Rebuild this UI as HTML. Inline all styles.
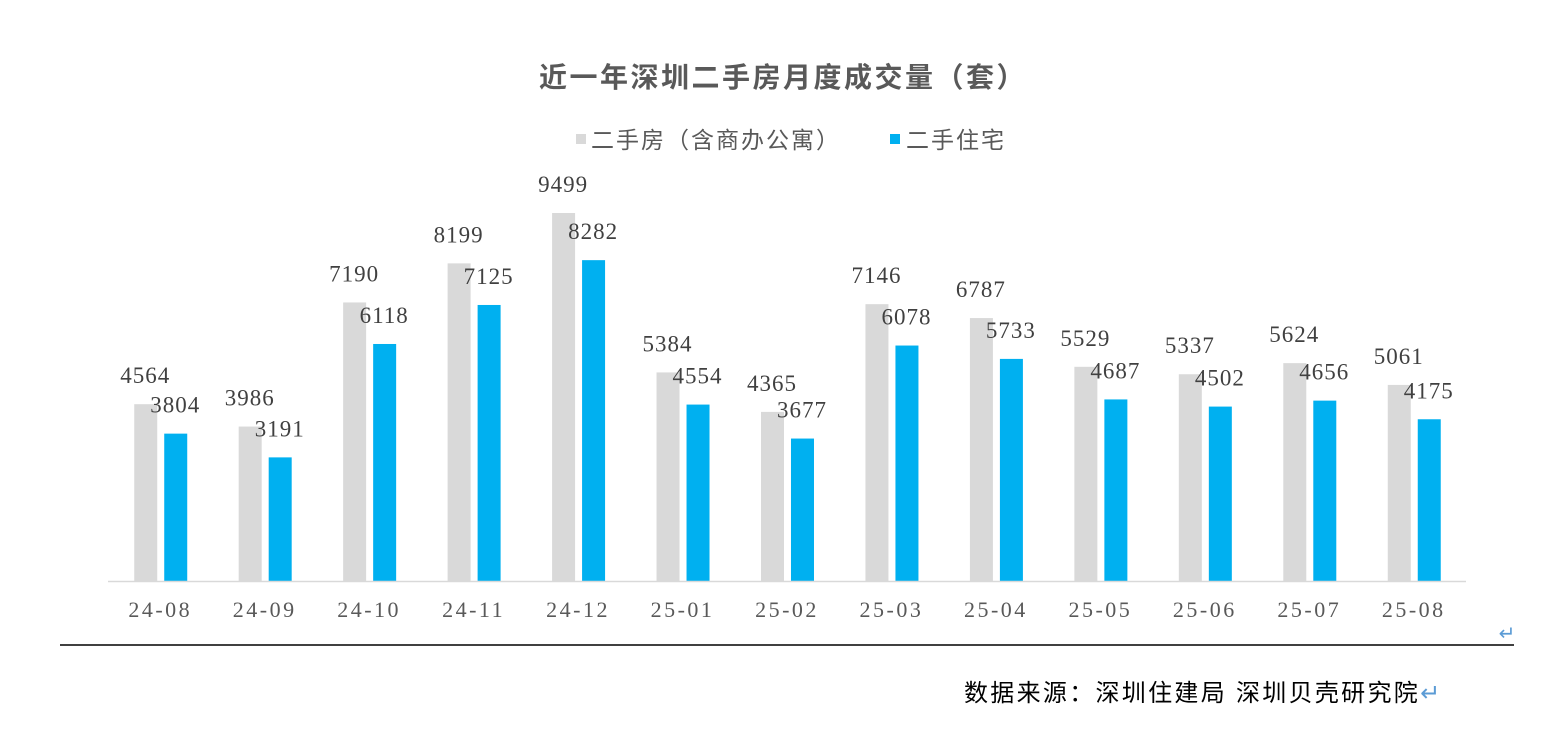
<!DOCTYPE html>
<html><head><meta charset="utf-8"><style>
html,body{margin:0;padding:0;background:#fff;}
svg{display:block;}
.v{font-family:"Liberation Serif","Noto Serif CJK SC",serif;font-size:23px;fill:#404040;letter-spacing:1px;text-anchor:middle;}
.x{font-family:"Liberation Serif","Noto Serif CJK SC",serif;font-size:22px;fill:#595959;letter-spacing:2.5px;text-anchor:middle;}
.cjk{font-family:"Liberation Sans","Noto Sans CJK SC",sans-serif;}
</style></head><body>
<svg width="1542" height="750" xmlns="http://www.w3.org/2000/svg" id="s">
<text x="783" y="87" class="cjk" font-size="28" font-weight="bold" fill="#595959" text-anchor="middle" letter-spacing="2.5">近一年深圳二手房月度成交量（套）</text>
<rect x="576" y="134" width="10" height="10" fill="#d9d9d9"/>
<text x="591" y="148" class="cjk" font-size="23" fill="#595959" letter-spacing="2">二手房（含商办公寓）</text>
<rect x="890" y="134" width="10" height="10" fill="#00b0f0"/>
<text x="906" y="148" class="cjk" font-size="23" fill="#595959" letter-spacing="2">二手住宅</text>
<g id="bars"></g>
<line x1="108" y1="581.5" x2="1466" y2="581.5" stroke="#d9d9d9" stroke-width="1.5"/>
<line x1="60" y1="645" x2="1514" y2="645" stroke="#000" stroke-width="1.5"/>
<text x="1507" y="640" font-size="20" fill="#5b9bd5" text-anchor="middle" class="cjk">↵</text>
<text x="964" y="701" class="cjk" font-size="24" fill="#000" letter-spacing="2.3">数据来源：深圳住建局 深圳贝壳研究院<tspan fill="#5b9bd5">↵</tspan></text>
</svg>
<script>
var lab=["24-08","24-09","24-10","24-11","24-12","25-01","25-02","25-03","25-04","25-05","25-06","25-07","25-08"];
var a=[4564,3986,7190,8199,9499,5384,4365,7146,6787,5529,5337,5624,5061];
var b=[3804,3191,6118,7125,8282,4554,3677,6078,5733,4687,4502,4656,4175];
var k=368/9499,base=581,h="";
for(var i=0;i<13;i++){var c=108+104.46*(i+0.5);
var ha=a[i]*k,hb=b[i]*k;
h+='<rect x="'+(c-26)+'" y="'+(base-ha)+'" width="23" height="'+ha+'" fill="#d9d9d9"/>';
h+='<rect x="'+(c+4)+'" y="'+(base-hb)+'" width="23" height="'+hb+'" fill="#00b0f0"/>';
h+='<text class="v" x="'+(c-15)+'" y="'+(base-ha-21)+'">'+a[i]+'</text>';
h+='<text class="v" x="'+(c+15)+'" y="'+(base-hb-21)+'">'+b[i]+'</text>';
h+='<text class="x" x="'+(c)+'" y="617">'+lab[i]+'</text>';}
document.getElementById("bars").innerHTML=h;
</script>
</body></html>
